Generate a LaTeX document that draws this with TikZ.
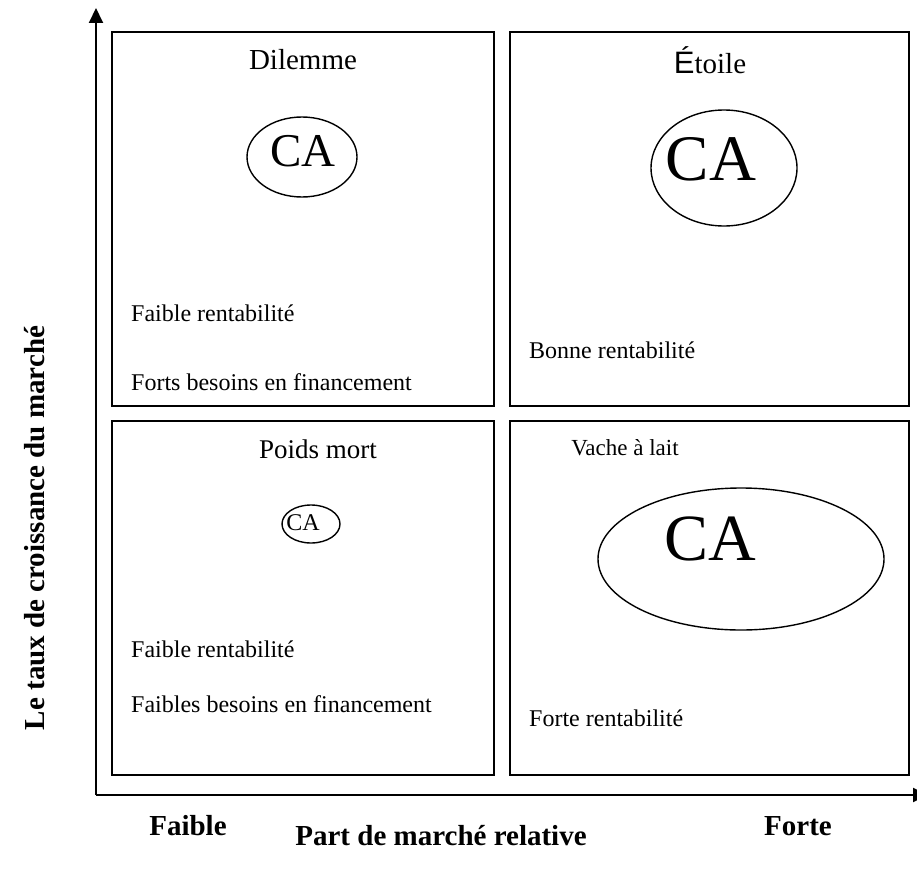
\documentclass[tikz,border=0pt]{standalone}
\usepackage{fontspec}
\setmainfont{Liberation Serif}
\newfontfamily\accentfont{Liberation Sans}
\usetikzlibrary{arrows.meta}
\begin{document}
\begin{tikzpicture}[x=1pt,y=-1pt,
  quad/.style={draw,line width=2pt},
  axis/.style={line width=2pt,-{Triangle[length=15pt,width=14pt]}},
  blob/.style={line width=1.4pt},
  title/.style={inner sep=0pt,font=\fontsize{29}{33}\selectfont},
  note/.style={inner sep=0pt,anchor=west,font=\fontsize{24}{28}\selectfont},
  axlabel/.style={inner sep=0pt,font=\fontsize{29}{33}\selectfont\bfseries},
  ca/.style={inner sep=0pt}]
\useasboundingbox (0,0) rectangle (917,880);

% axes
\coordinate (origin) at (96,795);
\coordinate (ytop) at (96,8);
\coordinate (xend) at (928,795);
\draw[axis] (origin) -- (ytop);
\draw[axis] (origin) -- (xend);

% four quadrants
\draw[quad] (112,32) rectangle (494,406);
\draw[quad] (510,32) rectangle (909,406);
\draw[quad] (112,421) rectangle (494,775);
\draw[quad] (510,421) rectangle (909,775);

% quadrant titles
\node[title] (dilemme) at (303,60) {Dilemme};
\node[title] (etoile) at (710,60) {{\accentfont\fontsize{31}{33}\selectfont É}toile};
\node[title,font=\fontsize{27}{30}\selectfont] (poids) at (318,449) {Poids mort};
\node[inner sep=0pt,font=\fontsize{23}{26}\selectfont] (vache) at (625,448) {Vache à lait};

% turnover ellipses
\draw[blob] (302,157) ellipse [x radius=55, y radius=40];
\node[ca,font=\fontsize{47}{50}\selectfont] (ca1) at (303,151) {CA};
\draw[blob] (724,168) ellipse [x radius=73, y radius=58];
\node[ca,font=\fontsize{65}{68}\selectfont] (ca2) at (711,159) {CA};
\draw[blob] (311,524) ellipse [x radius=29, y radius=19];
\node[ca,font=\fontsize{24}{27}\selectfont] (ca3) at (303,523) {CA};
\draw[blob] (741,559) ellipse [x radius=143, y radius=71];
\node[ca,font=\fontsize{66}{69}\selectfont] (ca4) at (710,539) {CA};

% notes
\node[note] (n1) at (131,313) {Faible rentabilité};
\node[note] (n2) at (131,382) {Forts besoins en financement};
\node[note] (n3) at (529,350) {Bonne rentabilité};
\node[note] (n4) at (131,649) {Faible rentabilité};
\node[note] (n5) at (131,704) {Faibles besoins en financement};
\node[note] (n6) at (529,718) {Forte rentabilité};

% axis labels
\node[axlabel,rotate=90] (ylab) at (35,528) {Le taux de croissance du marché};
\node[axlabel] (xlab) at (441,836) {Part de marché relative};
\node[axlabel] (low) at (188,826) {Faible};
\node[axlabel] (high) at (798,826) {Forte};
\end{tikzpicture}
\end{document}
